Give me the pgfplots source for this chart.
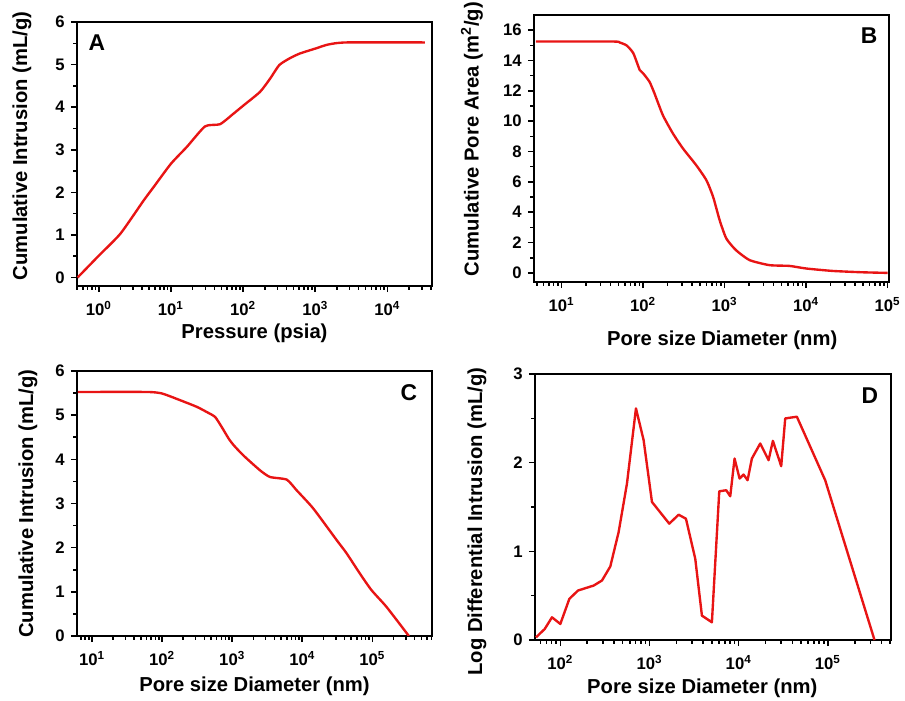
\documentclass[border=0pt]{standalone}
\usepackage{fontspec}
\setmainfont{Liberation Sans}
\usepackage{pgfplots}
\pgfplotsset{compat=1.18}
\definecolor{curve}{RGB}{232,20,20}
\pgfkeys{/pgf/number format/assume math mode=true}
\pgfplotsset{
  every axis/.append style={
    scale only axis,
    tick align=outside, xtick pos=left, ytick pos=left,
    major tick length=3.5pt, minor tick length=2pt,
    tick style={black, line width=0.9pt},
    axis line style={line width=1pt},
    ticklabel style={font=\fontsize{9.5}{11}\selectfont\bfseries},
    xticklabel style={yshift=-1.5pt},
    label style={font=\fontsize{11.5}{13}\selectfont\bfseries},
    minor y tick num=1,
  },
  red line/.style={color=curve, line width=1.35pt, mark=none, line join=round},
}
\newcommand\decade{10\textsuperscript{\pgfmathparse{int(round(\tick/ln(10)))}\pgfmathresult}}
\tikzset{letter/.style={font=\fontsize{13}{15}\selectfont\bfseries}}
\begin{document}
\begin{tikzpicture}
\useasboundingbox (0,0) rectangle (18.1,14);

% A
\begin{semilogxaxis}[anchor=south west, at={(1.54cm,8.28cm)}, width=7.10cm, height=5.28cm,
  xticklabel={\decade},
  xmin=0.5, xmax=41500, ymin=-0.2, ymax=6, ytick={0,1,...,6},
  xlabel={Pressure (psia)}, ylabel={Cumulative Intrusion (mL/g)},
  xlabel style={at={(axis description cs:0.5,-0.178)}, anchor=center},
  ylabel style={at={(axis description cs:-0.155,0.53)}, anchor=center}]
\addplot[red line, smooth, tension=0.35] coordinates {(0.51,0) (1,0.51) (2,1.03) (4.2,1.81) (5.8,2.13) (10,2.67)
  (16.7,3.07) (29.8,3.55) (48,3.60) (74,3.85) (103,4.05) (172,4.36) (237,4.67)
  (318,4.99) (446,5.15) (612,5.26) (1020,5.38) (1500,5.47) (2700,5.52) (33000,5.52)};
\node[letter] at (rel axis cs:0.056,0.92) {A};
\end{semilogxaxis}

% B
\begin{semilogxaxis}[anchor=south west, at={(10.68cm,8.36cm)}, width=7.10cm, height=5.34cm,
  xticklabel={\decade},
  xmin=4.6, xmax=104000, ymin=-0.6, ymax=17, ytick={0,2,...,16},
  xlabel={Pore size Diameter (nm)}, ylabel={Cumulative Pore Area (m\textsuperscript{2}/g)},
  xlabel style={at={(axis description cs:0.53,-0.217)}, anchor=center},
  ylabel style={at={(axis description cs:-0.175,0.535)}, anchor=center}]
\addplot[red line, smooth, tension=0.35] coordinates {(4.85,15.25) (43,15.25) (52,15.18) (63,14.99) (76,14.48)
  (91,13.38) (100,13.16) (120,12.6) (138,11.84) (175,10.4) (232,9.2) (309,8.2)
  (449,7.1) (600,6.1) (725,5.0) (870,3.48) (1050,2.27) (1380,1.5) (2030,0.84)
  (3560,0.51) (6250,0.46) (10000,0.29) (21000,0.13) (49000,0.04) (100000,0.0)};
\node[letter] at (rel axis cs:0.944,0.921) {B};
\end{semilogxaxis}

% C
\begin{semilogxaxis}[anchor=south west, at={(1.54cm,1.28cm)}, width=7.10cm, height=5.30cm,
  xticklabel={\decade},
  xmin=6.1, xmax=710000, ymin=0, ymax=6, ytick={0,1,...,6},
  xlabel={Pore size Diameter (nm)}, ylabel={Cumulative Intrusion (mL/g)},
  xlabel style={at={(axis description cs:0.5,-0.19)}, anchor=center},
  ylabel style={at={(axis description cs:-0.138,0.5)}, anchor=center}]
\addplot[red line, smooth, tension=0.35] coordinates {(6.3,5.525) (61,5.525) (100,5.49) (180,5.34) (311,5.19)
  (435,5.07) (570,4.96) (710,4.73) (890,4.47) (1050,4.32) (1440,4.09) (2500,3.75)
  (3470,3.60) (6000,3.54) (8300,3.30) (14300,2.89) (31000,2.17) (43000,1.87)
  (66000,1.42) (97000,1.04) (159000,0.66) (332000,0)};
\node[letter] at (rel axis cs:0.935,0.917) {C};
\end{semilogxaxis}

% D
\begin{semilogxaxis}[anchor=south west, at={(10.70cm,1.20cm)}, width=7.12cm, height=5.32cm,
  xticklabel={\decade},
  xmin=52, xmax=510000, ymin=0, ymax=3, ytick={0,1,2,3},
  xlabel={Pore size Diameter (nm)}, ylabel={Log Differential Intrusion (mL/g)},
  xlabel style={at={(axis description cs:0.47,-0.18)}, anchor=center},
  ylabel style={at={(axis description cs:-0.163,0.445)}, anchor=center}]
\addplot[red line] coordinates {(53.4,0.03) (66.8,0.124) (80.6,0.256) (100,0.181) (126.2,0.464)
  (157.8,0.558) (236.4,0.614) (293.1,0.671) (363.3,0.829) (450.5,1.217) (558.6,1.764)
  (704.7,2.612) (858.8,2.254) (1065,1.557) (1665,1.312) (2120,1.413) (2561,1.368)
  (3258,0.916) (3869,0.275) (5007,0.2) (6053,1.677) (7250,1.689) (8036,1.621)
  (8989,2.047) (10226,1.821) (11338,1.866) (12572,1.802) (14058,2.047) (17430,2.216)
  (21610,2.028) (24170,2.246) (29970,1.96) (33230,2.499) (44900,2.518) (93270,1.802)
  (333200,0)};
\node[letter] at (rel axis cs:0.941,0.917) {D};
\end{semilogxaxis}
\end{tikzpicture}
\end{document}
